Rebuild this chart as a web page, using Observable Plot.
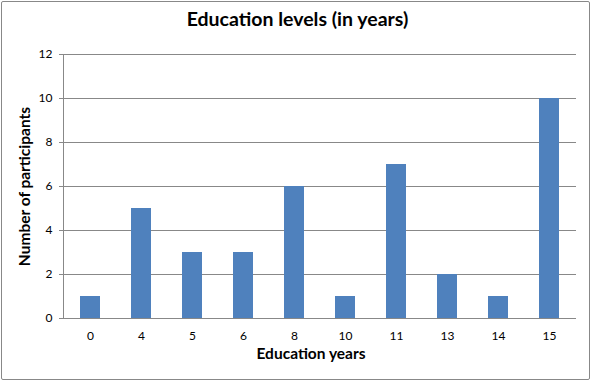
<!DOCTYPE html>
<html>
<head>
<meta charset="utf-8">
<script src="https://cdn.jsdelivr.net/npm/d3@7"></script>
<script src="https://cdn.jsdelivr.net/npm/@observablehq/plot@0.6"></script>
<style>
  body { margin: 0; background: #fff; }
  #wrap { position: relative; width: 595px; height: 382px; overflow: hidden; font-family: Lato, "Open Sans", sans-serif; }
  #border { position: absolute; left: 1px; top: 1px; width: 587px; height: 377px; border: 1px solid #888; border-radius: 2px; pointer-events: none; }
  #title { position: absolute; left: 0; width: 595px; top: 7px; text-align: center; font-weight: bold; font-size: 19.5px; color: #000; }
  #chart { position: absolute; left: 0; top: 0; }
</style>
</head>
<body>
<div id="wrap">
  <div id="chart"></div>
  <div id="title">Education levels (in years)</div>
  <div id="border"></div>
</div>
<script>
const categories = ["0", "4", "5", "6", "8", "10", "11", "13", "14", "15"];
const participants = [1, 5, 3, 3, 6, 1, 7, 2, 1, 10];
const yTicks = [0, 2, 4, 6, 8, 10, 12];

const data = categories.map((c, i) => ({ year: c, count: participants[i] }));

const chart = Plot.plot({
  width: 595,
  height: 382,
  marginLeft: 63,
  marginRight: 19,
  marginTop: 54,
  marginBottom: 64,
  style: { fontFamily: "Lato, 'Open Sans', sans-serif", fontSize: "12px", color: "#000", background: "transparent" },
  x: { domain: categories, paddingInner: 0.61, paddingOuter: 0.305, align: 0.5 },
  y: { domain: [0, 12] },
  marks: [
    Plot.gridY(yTicks, { stroke: "#888", strokeOpacity: 1 }),
    Plot.barY(data, { x: "year", y: "count", fill: "#4f81bd" }),
    Plot.ruleY([0], { stroke: "#888" }),
    Plot.axisY(yTicks, {
      tickSize: 4, tickPadding: 7, stroke: "#888", fill: "#000",
      label: "Number of participants", labelAnchor: "center", labelArrow: "none", labelOffset: 45,
      fontSize: 12
    }),
    Plot.axisX({
      tickSize: 0, tickPadding: 13, fill: "#000", fontSize: 12,
      label: null
    }),
    Plot.text(["Education years"], {
      frameAnchor: "bottom", dy: 40, dx: -9, fontWeight: "bold", fontSize: 15.5, fill: "#000"
    })
  ]
});

chart.querySelectorAll("[aria-label='y-axis label'] text, [aria-label='y-axis label']").forEach(el => {
  el.setAttribute("font-weight", "bold");
  el.setAttribute("font-size", "15.5");
});
const ns = "http://www.w3.org/2000/svg";
const line = document.createElementNS(ns, "line");
line.setAttribute("x1", 63.5); line.setAttribute("x2", 63.5);
line.setAttribute("y1", 54); line.setAttribute("y2", 318);
line.setAttribute("stroke", "#888");
chart.appendChild(line);
document.getElementById("chart").appendChild(chart);
</script>
</body>
</html>
